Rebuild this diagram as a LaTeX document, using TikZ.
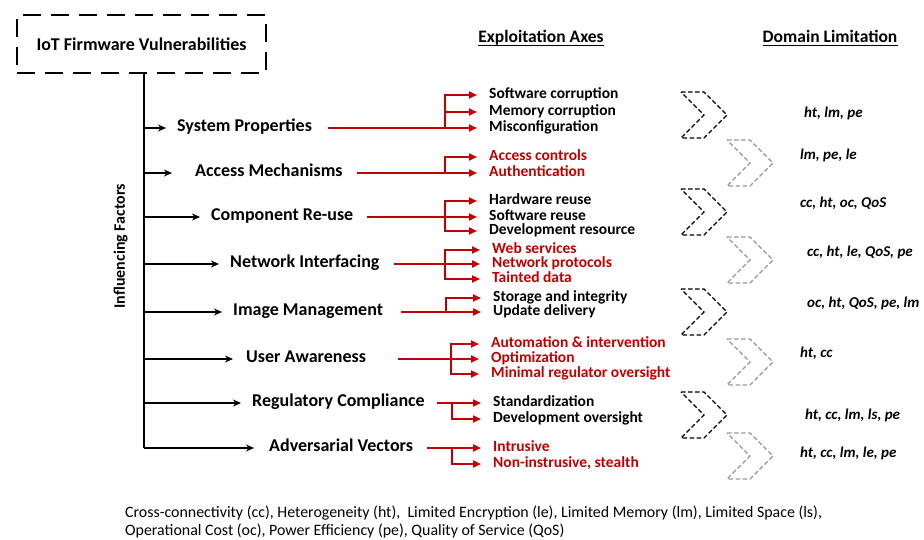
\documentclass[tikz,border=0pt]{standalone}
\usepackage{fontspec}
\setmainfont{Carlito}
\usepackage{xcolor}
\usepackage{tikz}
\usetikzlibrary{arrows.meta}

\definecolor{axisred}{RGB}{192,0,0}
\definecolor{limitgray}{RGB}{150,150,150}

\tikzset{
  chevron/.pic={\draw[pic actions] (-23,-23) -- (0,-23) -- (23,0) -- (0,23) -- (-23,23) -- (0,0) -- cycle;},
}

\begin{document}
\begin{tikzpicture}[x=1pt,y=-1pt,
    titlebox/.style={draw, line width=2.4pt, dash pattern=on 18pt off 10pt,
      minimum width=249pt, minimum height=58pt, inner sep=0pt,
      font=\bfseries\fontsize{18}{20}\selectfont},
    factor/.style={anchor=west, inner sep=0pt, text height=.9em, text depth=.15em,
      font=\bfseries\fontsize{18}{20}\selectfont},
    axis/.style={anchor=west, inner sep=0pt, text height=.9em, text depth=.15em,
      font=\bfseries\fontsize{15.5}{17}\selectfont},
    redaxis/.style={axis, text=axisred},
    limit/.style={anchor=west, inner sep=0pt, font=\bfseries\itshape\fontsize{15}{17}\selectfont},
    header/.style={anchor=base, inner sep=0pt, text depth=0pt, font=\bfseries\fontsize{17.5}{19}\selectfont},
    trunkline/.style={line width=2.6pt},
    factorarrow/.style={line width=2pt, -{Stealth[length=8pt,width=7pt]}, shorten >=11pt},
    forkarrow/.style={axisred, line width=2pt, -{Triangle[length=8pt,width=7pt]}, shorten >=12pt},
    limitdash/.style={line width=1.3pt, dash pattern=on 4.5pt off 2.5pt},
  ]
  \useasboundingbox (0,0) rectangle (924,540);

  % root and trunk
  \node[titlebox] (title) at (141.5,44) {IoT Firmware Vulnerabilities};
  \coordinate (trunkend) at (144,448);
  \draw[trunkline] (title.south -| trunkend) -- (trunkend);
  \node[factor, rotate=90, anchor=center] (influence) at (121,246) {\fontsize{16}{18}\selectfont Influencing Factors};

  % column headers
  \node[header] (axeshead) at (541,43) {Exploitation Axes};
  \node[header] (limithead) at (830,43) {Domain Limitation};
  \draw[line width=1.2pt] ([yshift=-2pt]axeshead.south west) -- ([yshift=-2pt]axeshead.south east);
  \draw[line width=1.2pt] ([yshift=-2pt]limithead.south west) -- ([yshift=-2pt]limithead.south east);

  % influencing factors
  \node[factor] (sysprop) at (177,128) {System Properties};
  \node[factor] (access) at (195,173) {Access Mechanisms};
  \node[factor] (reuse) at (211,217) {Component Re-use};
  \node[factor] (netif) at (230,264) {Network Interfacing};
  \node[factor] (imgmgmt) at (233,312) {Image Management};
  \node[factor] (aware) at (246,359) {User Awareness};
  \node[factor] (regcomp) at (252,403) {Regulatory Compliance};
  \node[factor] (advvec) at (269,448) {Adversarial Vectors};

  \draw[factorarrow] (trunkend |- sysprop.west) -- (sysprop.west);
  \draw[factorarrow, shorten >=23pt] (trunkend |- access.west) -- (access.west);
  \draw[factorarrow] (trunkend |- reuse.west) -- (reuse.west);
  \draw[factorarrow] (trunkend |- netif.west) -- (netif.west);
  \draw[factorarrow] (trunkend |- imgmgmt.west) -- (imgmgmt.west);
  \draw[factorarrow, shorten >=13pt] (trunkend |- aware.west) -- (aware.west);
  \draw[factorarrow] (trunkend |- regcomp.west) -- (regcomp.west);
  \draw[factorarrow, shorten >=15pt] (trunkend) -- (advvec.west);

  % exploitation axes
  \node[axis] (swcorr) at (489,95) {Software corruption};
  \node[axis] (memcorr) at (489,112) {Memory corruption};
  \node[axis] (misconf) at (489,128) {Misconfiguration};
  \node[redaxis] (acctrl) at (489,157) {Access controls};
  \node[redaxis] (authn) at (489,173) {Authentication};
  \node[axis] (hwreuse) at (489,201) {Hardware reuse};
  \node[axis] (swreuse) at (489,217) {Software reuse};
  \node[axis] (devres) at (489,231) {Development resource};
  \node[redaxis] (websvc) at (492,250) {Web services};
  \node[redaxis] (netproto) at (492,264) {Network protocols};
  \node[redaxis] (tainted) at (492,279) {Tainted data};
  \node[axis] (storage) at (493,298) {Storage and integrity};
  \node[axis] (update) at (493,312) {Update delivery};
  \node[redaxis] (automat) at (491,344) {Automation \& intervention};
  \node[redaxis] (optim) at (491,359) {Optimization};
  \node[redaxis] (minreg) at (491,374) {Minimal regulator oversight};
  \node[axis] (standard) at (493,403) {Standardization};
  \node[axis] (devover) at (493,419) {Development oversight};
  \node[redaxis] (intrusive) at (493,448) {Intrusive};
  \node[redaxis] (stealth) at (493,464) {Non-instrusive, stealth};

  % forks
  \coordinate (spfork) at (445,128);
  \coordinate (amfork) at (445,173);
  \coordinate (crfork) at (445,217);
  \coordinate (nifork) at (445,264);
  \coordinate (imfork) at (446,312);
  \coordinate (uafork) at (451,359);
  \coordinate (rcfork) at (452,403);
  \coordinate (avfork) at (452,448);

  \draw[forkarrow, shorten <=16pt] (sysprop.east) -- (misconf.west);
  \draw[forkarrow] (spfork) |- (swcorr.west);
  \draw[forkarrow] (spfork) |- (memcorr.west);

  \draw[forkarrow, shorten <=14pt] (access.east) -- (authn.west);
  \draw[forkarrow] (amfork) |- (acctrl.west);

  \draw[forkarrow, shorten <=14pt] (reuse.east) -- (swreuse.west);
  \draw[forkarrow] (crfork) |- (hwreuse.west);
  \draw[forkarrow] (crfork) |- (devres.west);

  \draw[forkarrow, shorten <=14pt] (netif.east) -- (netproto.west);
  \draw[forkarrow] (nifork) |- (websvc.west);
  \draw[forkarrow] (nifork) |- (tainted.west);

  \draw[forkarrow, shorten <=18pt] (imgmgmt.east) -- (update.west);
  \draw[forkarrow] (imfork) |- (storage.west);

  \draw[forkarrow, shorten <=32pt] (aware.east) -- (optim.west);
  \draw[forkarrow] (uafork) |- (automat.west);
  \draw[forkarrow] (uafork) |- (minreg.west);

  \draw[forkarrow, shorten <=12pt] (regcomp.east) -- (standard.west);
  \draw[forkarrow] (rcfork) |- (devover.west);

  \draw[forkarrow, shorten <=14pt] (advvec.east) -- (intrusive.west);
  \draw[forkarrow] (avfork) |- (stealth.west);

  % domain limitations
  \pic[limitdash] at (704,115) {chevron};
  \pic[limitdash, limitgray] at (750,163) {chevron};
  \pic[limitdash] at (704,212) {chevron};
  \pic[limitdash, limitgray] at (750,260) {chevron};
  \pic[limitdash] at (704,312) {chevron};
  \pic[limitdash, limitgray] at (750,362) {chevron};
  \pic[limitdash] at (704,415) {chevron};
  \pic[limitdash, limitgray] at (750,456) {chevron};

  \node[limit] (lim1) at (804,113) {ht, lm, pe};
  \node[limit] (lim2) at (800,155) {lm, pe, le};
  \node[limit] (lim3) at (800,203) {cc, ht, oc, QoS};
  \node[limit] (lim4) at (807,252) {cc, ht, le, QoS, pe};
  \node[limit] (lim5) at (807,303) {oc, ht, QoS, pe, lm};
  \node[limit] (lim6) at (800,353) {ht, cc};
  \node[limit] (lim7) at (805,415) {ht, cc, lm, ls, pe};
  \node[limit] (lim8) at (800,453) {ht, cc, lm, le, pe};

  % abbreviations
  \node[anchor=west, inner sep=0pt, align=left, font=\fontsize{15.9}{18}\selectfont] (legend) at (125,522)
    {Cross-connectivity (cc), Heterogeneity (ht),~ Limited Encryption (le), Limited Memory (lm), Limited Space (ls),\\
     Operational Cost (oc), Power Efficiency (pe), Quality of Service (QoS)};
\end{tikzpicture}
\end{document}
